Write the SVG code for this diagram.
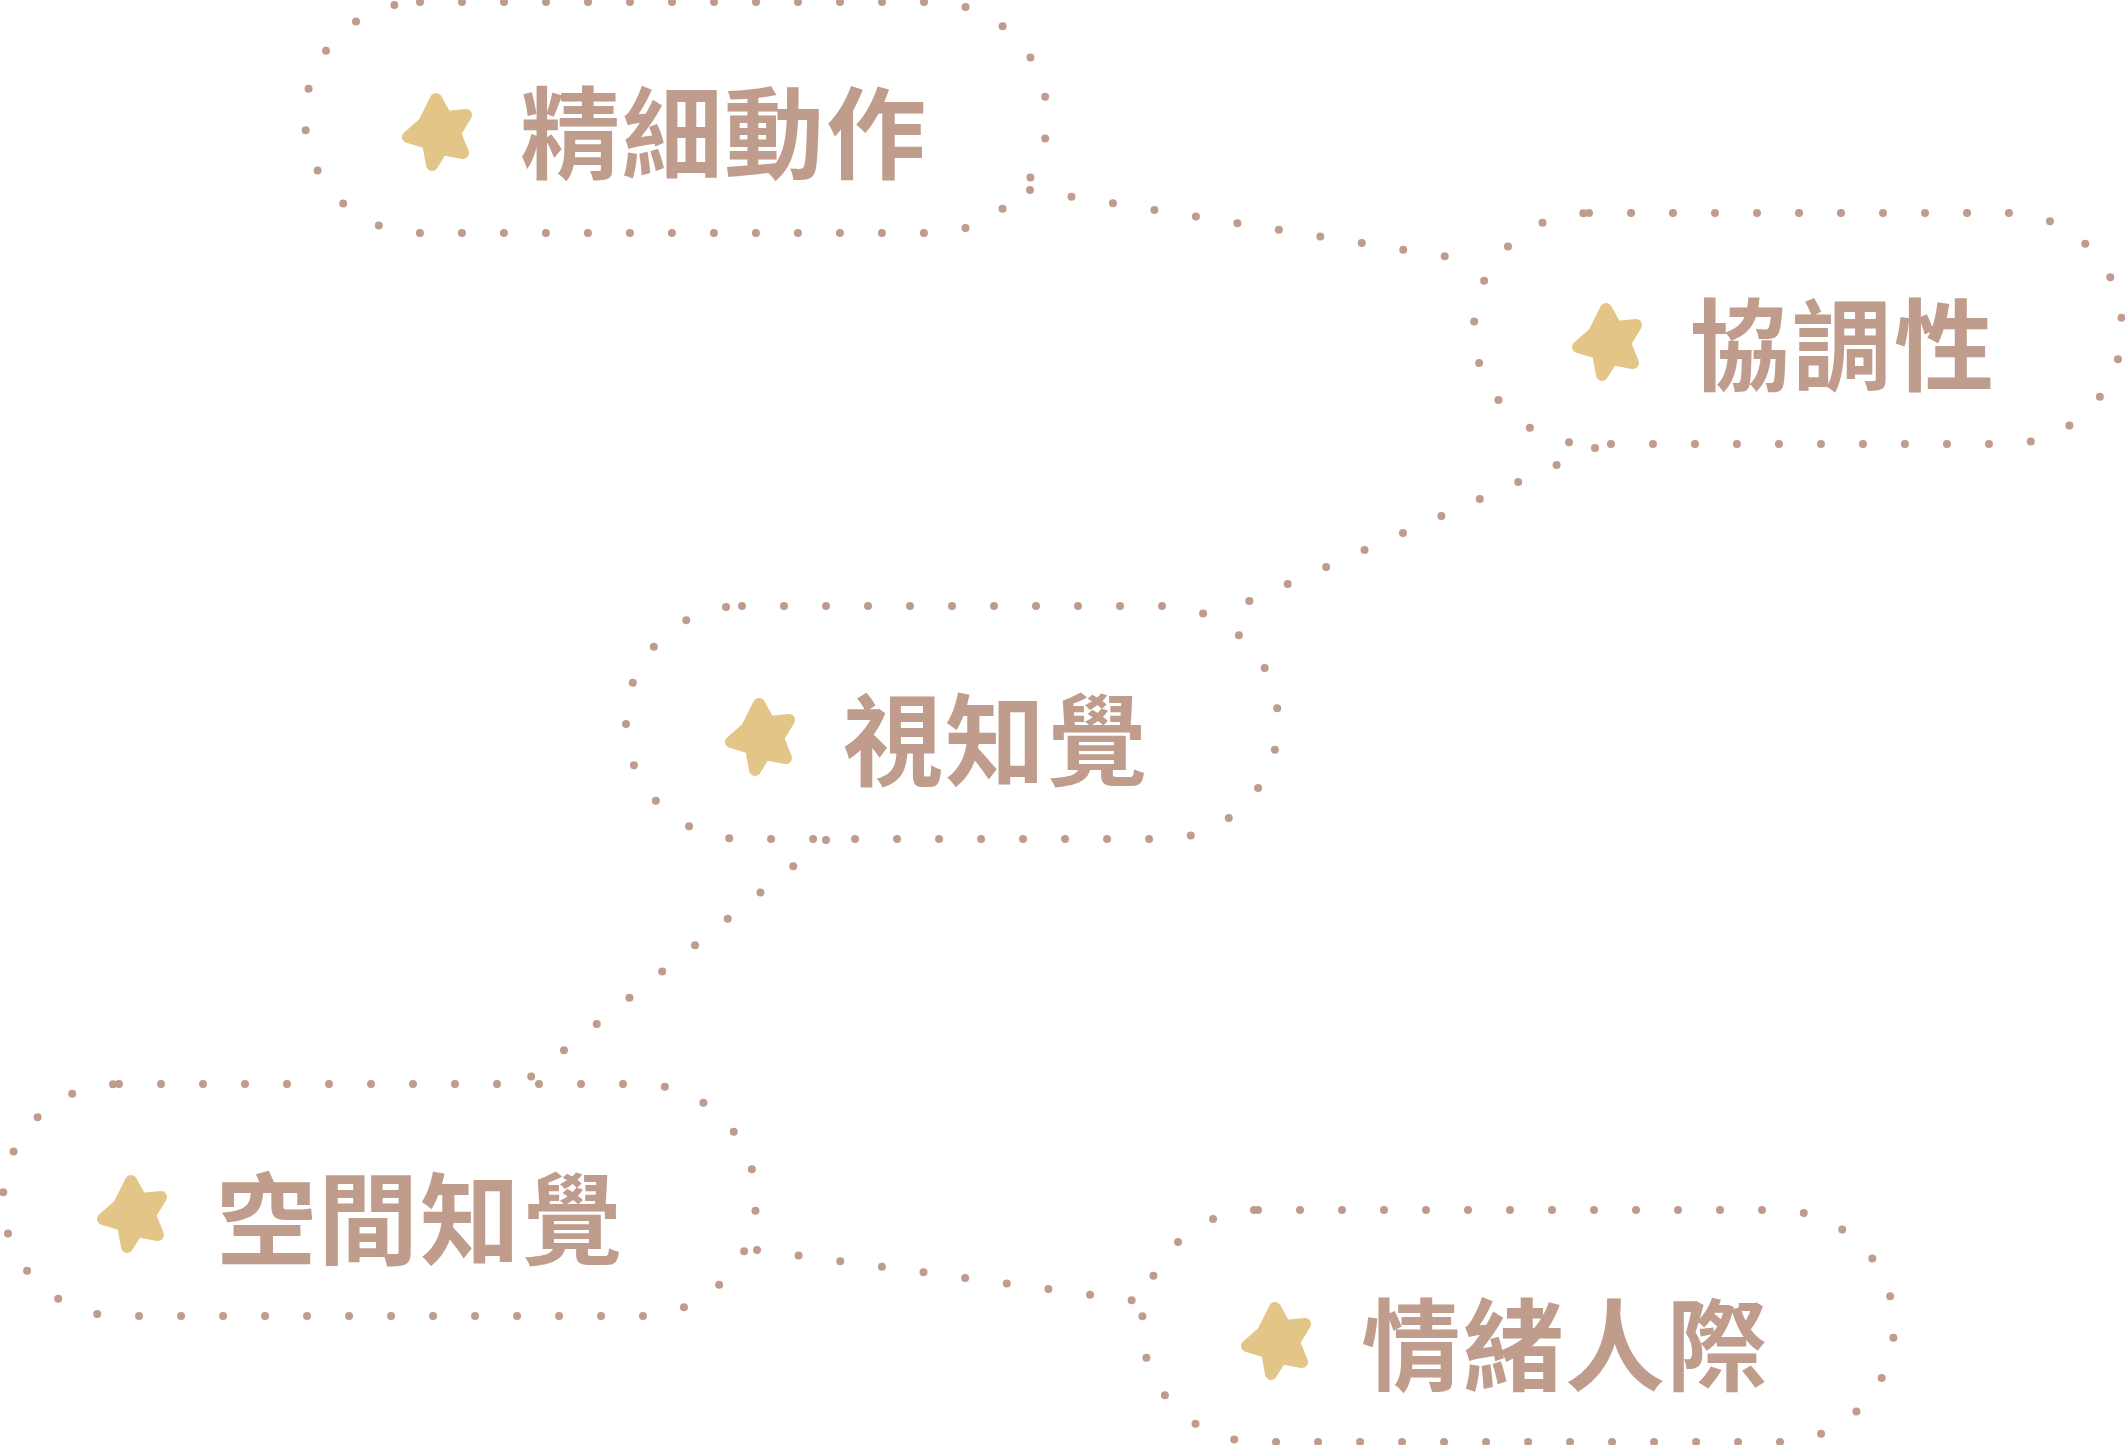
<svg xmlns="http://www.w3.org/2000/svg" width="2125" height="1445" viewBox="0 0 2125 1445">
<defs>
<style>
.pill{fill:none;stroke:#bf9c8b;stroke-width:8;stroke-linecap:round;stroke-dasharray:0 42}
.con{fill:none;stroke:#bf9c8b;stroke-width:8;stroke-linecap:round;stroke-dasharray:0 42}
.lbl{font-family:"Noto Sans CJK TC","Noto Sans CJK SC",sans-serif;font-weight:700;font-size:100px;fill:#bf9c8b;dominant-baseline:central;letter-spacing:2px}
.star{fill:#e3c687;stroke:#e3c687;stroke-width:12;stroke-linejoin:round}
</style>
<polygon id="st" class="star" points="0,-30 10,-12 30,-14 19,4 27,24 6,20 -4,36 -8,14 -28,8 -12,-6"/>
</defs>
<rect width="2125" height="1445" fill="#fff"/>
<g id="connectors">
<path class="con" d="M1030,190 L1480,262"/>
<path class="con" d="M1595,448 L1213,617"/>
<path class="con" d="M826,840 L522,1084"/>
<path class="con" d="M757,1250 L1145,1302"/>
</g>
<g id="n1"><rect class="pill" x="305" y="2" width="742" height="231" rx="115"/><use href="#st" x="436" y="129"/><text class="lbl" x="520" y="127">精細動作</text></g>
<g id="n2"><rect class="pill" x="1474" y="213" width="648" height="231" rx="115"/><use href="#st" x="1606" y="339"/><text class="lbl" x="1690" y="339">協調性</text></g>
<g id="n3"><rect class="pill" x="626" y="606" width="652" height="233" rx="116"/><use href="#st" x="759" y="734"/><text class="lbl" x="843" y="734">視知覺</text></g>
<g id="n4"><rect class="pill" x="3" y="1084" width="753" height="232" rx="116"/><use href="#st" x="131" y="1211"/><text class="lbl" x="216" y="1213">空間知覺</text></g>
<g id="n5"><rect class="pill" x="1142" y="1210" width="752" height="232" rx="116"/><use href="#st" x="1275" y="1338"/><text class="lbl" x="1361" y="1339">情緒人際</text></g>
</svg>
